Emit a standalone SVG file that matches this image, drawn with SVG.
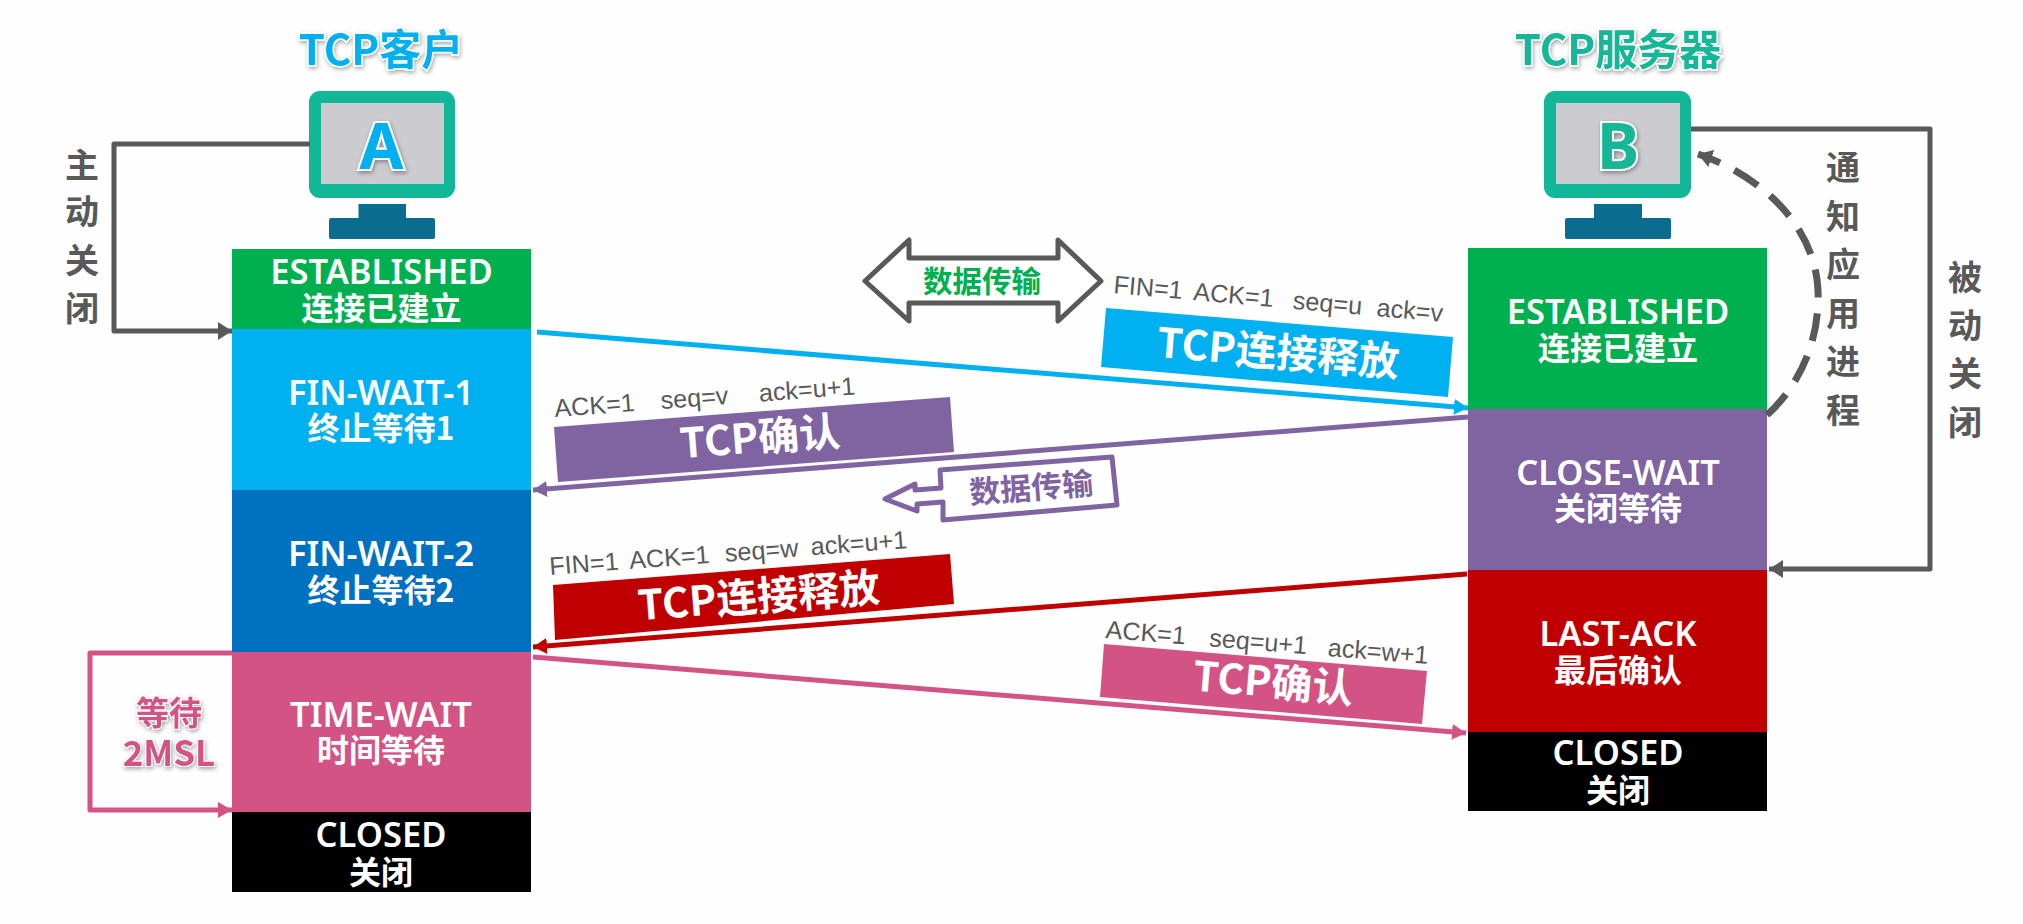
<svg xmlns="http://www.w3.org/2000/svg" width="2023" height="924" viewBox="0 0 2023 924">
<style>
text{font-family:"Noto Sans","Noto Sans CJK SC",sans-serif}
.n{fill:#fff;font-size:34.500px;font-weight:600;text-anchor:middle}
.z{font-family:"Noto Sans CJK SC",sans-serif;fill:#fff;font-size:32px;font-weight:700;text-anchor:middle}
.v{font-family:"Noto Sans CJK SC",sans-serif;fill:#595959;font-size:34px;font-weight:700;text-anchor:middle}
.f{font-family:"Liberation Sans",Arial,sans-serif;fill:#595959;font-size:25.200px}
.b{font-family:"Noto Sans CJK SC",sans-serif;fill:#fff;font-size:41px;font-weight:700;text-anchor:middle}
.c{fill:none;stroke-width:5}
</style>
<defs>
<filter id="s" x="-20%" y="-20%" width="140%" height="140%"><feDropShadow dx="1" dy="2" stdDeviation="2" flood-color="#000" flood-opacity=".35"/></filter>
<marker id="ag" markerUnits="userSpaceOnUse" markerWidth="14" markerHeight="18" refX="14" refY="9" orient="auto"><path d="M0 0L14 9L0 18z" fill="#595959"/></marker>
<marker id="ab" markerUnits="userSpaceOnUse" markerWidth="14" markerHeight="16" refX="14" refY="8" orient="auto"><path d="M0 0L14 8L0 16z" fill="#00B0F0"/></marker>
<marker id="ap" markerUnits="userSpaceOnUse" markerWidth="14" markerHeight="16" refX="14" refY="8" orient="auto"><path d="M0 0L14 8L0 16z" fill="#8064A2"/></marker>
<marker id="ar" markerUnits="userSpaceOnUse" markerWidth="14" markerHeight="16" refX="14" refY="8" orient="auto"><path d="M0 0L14 8L0 16z" fill="#C00000"/></marker>
<marker id="ak" markerUnits="userSpaceOnUse" markerWidth="14" markerHeight="16" refX="14" refY="8" orient="auto"><path d="M0 0L14 8L0 16z" fill="#D35384"/></marker>
</defs>
<rect width="2023" height="924" fill="#fefefe"/>

<g id="client-title"><text x="381" y="65" text-anchor="middle" font-size="42" font-weight="700" fill="#00B0F0" stroke="#fff" stroke-width="3" paint-order="stroke" filter="url(#s)" style="font-family:'Noto Sans CJK SC',sans-serif">TCP客户</text></g>
<g id="server-title"><text x="1618" y="65" text-anchor="middle" font-size="42" font-weight="700" fill="#12B797" stroke="#fff" stroke-width="3" paint-order="stroke" filter="url(#s)" style="font-family:'Noto Sans CJK SC',sans-serif">TCP服务器</text></g>

<g id="host-a">
<rect x="309" y="91" width="146" height="107" rx="11" fill="#12B797"/>
<rect x="321" y="103" width="123" height="81" fill="#CBCBD0"/>
<path d="M358.500 204H406V218H433a2 2 0 0 1 2 2V237a2 2 0 0 1-2 2H331a2 2 0 0 1-2-2V220a2 2 0 0 1 2-2H358.500z" fill="#0A6C8F"/>
<text x="381.500" y="169" text-anchor="middle" font-size="64" font-weight="700" fill="#00B0F0" stroke="#fff" stroke-width="4" paint-order="stroke" filter="url(#s)">A</text>
</g>
<g id="host-b">
<rect x="1544" y="91" width="147" height="107" rx="11" fill="#12B797"/>
<rect x="1556" y="103" width="124" height="81" fill="#CBCBD0"/>
<path d="M1594 204H1642V218H1669a2 2 0 0 1 2 2V237a2 2 0 0 1-2 2H1567a2 2 0 0 1-2-2V220a2 2 0 0 1 2-2H1594z" fill="#0A6C8F"/>
<text x="1618" y="169" text-anchor="middle" font-size="64" font-weight="700" fill="#12B797" stroke="#fff" stroke-width="4" paint-order="stroke" filter="url(#s)">B</text>
</g>

<g id="a-established"><rect x="232" y="249" width="299" height="80" fill="#00B050"/><text class="n" x="381.500" y="284">ESTABLISHED</text><text class="z" x="381.500" y="320">连接已建立</text></g>
<g id="a-fin-wait-1"><rect x="232" y="329" width="299" height="161" fill="#00B0F0"/><text class="n" x="381" y="405">FIN-WAIT-1</text><text class="z" x="381" y="440">终止等待1</text></g>
<g id="a-fin-wait-2"><rect x="232" y="490" width="299" height="162" fill="#0070C0"/><text class="n" x="381" y="566">FIN-WAIT-2</text><text class="z" x="381" y="602">终止等待2</text></g>
<g id="a-time-wait"><rect x="232" y="652" width="299" height="160" fill="#D35384"/><text class="n" x="381" y="727">TIME-WAIT</text><text class="z" x="381" y="762">时间等待</text></g>
<g id="a-closed"><rect x="232" y="812" width="299" height="80" fill="#000"/><text class="n" x="381" y="847">CLOSED</text><text class="z" x="381" y="884">关闭</text></g>

<g id="b-established"><rect x="1468" y="248" width="299" height="161" fill="#00B050"/><text class="n" x="1618" y="324">ESTABLISHED</text><text class="z" x="1618" y="360">连接已建立</text></g>
<g id="b-close-wait"><rect x="1468" y="409" width="299" height="161" fill="#8064A2"/><text class="n" x="1618" y="485">CLOSE-WAIT</text><text class="z" x="1618" y="520">关闭等待</text></g>
<g id="b-last-ack"><rect x="1468" y="570" width="299" height="162" fill="#C00000"/><text class="n" x="1618" y="646">LAST-ACK</text><text class="z" x="1618" y="682">最后确认</text></g>
<g id="b-closed"><rect x="1468" y="732" width="299" height="79" fill="#000"/><text class="n" x="1618" y="765">CLOSED</text><text class="z" x="1618" y="802">关闭</text></g>

<g id="connectors">
<path class="c" d="M310 144H114V331H232" stroke="#595959" stroke-linejoin="round" marker-end="url(#ag)"/>
<path class="c" d="M1691 129H1930V569H1769" stroke="#595959" stroke-linejoin="round" marker-end="url(#ag)"/>
<path d="M1767 415C1800 385 1820 340 1818 290C1815 225 1760 175 1698 154" fill="none" stroke="#595959" stroke-width="7" stroke-dasharray="28 16" marker-end="url(#ag)"/>
<path class="c" d="M232 653H90V810H232" stroke="#D35384" stroke-linejoin="round" marker-end="url(#ak)"/>
<line class="c" x1="537" y1="332" x2="1468" y2="408" stroke="#00B0F0" marker-end="url(#ab)"/>
<line class="c" x1="1468" y1="417" x2="533" y2="490" stroke="#8064A2" marker-end="url(#ap)"/>
<line class="c" x1="1467" y1="574" x2="533" y2="647" stroke="#C00000" marker-end="url(#ar)"/>
<line class="c" x1="533" y1="657" x2="1466" y2="733" stroke="#D35384" marker-end="url(#ak)"/>
</g>

<g id="data-both">
<path d="M865 281L909 240V258H1058V240L1101 281L1058 321V303H909V321z" fill="#fff" stroke="#595959" stroke-width="5" stroke-linejoin="round"/>
<text x="982" y="292" text-anchor="middle" font-size="29.500" font-weight="700" fill="#00B050" style="font-family:'Noto Sans CJK SC',sans-serif">数据传输</text>
</g>
<g id="data-back">
<path d="M885 499L915 484V490L941 488L940 470L1112 457L1117 505L943 520L943 502L917 504V511z" fill="#fff" stroke="#8064A2" stroke-width="5" stroke-linejoin="round"/>
<text transform="translate(1032 499) rotate(-4.500)" text-anchor="middle" font-size="31" font-weight="700" fill="#8064A2" style="font-family:'Noto Sans CJK SC',sans-serif">数据传输</text>
</g>

<g id="seg-fin-u">
<polygon points="1106,308 1453,337 1448,397 1101,367" fill="#00B0F0"/>
<text class="b" transform="translate(1277 367) rotate(4.700)">TCP连接释放</text>
<text class="f" transform="translate(1113 293) rotate(5)">FIN=1<tspan x="80">ACK=1</tspan><tspan x="180">seq=u</tspan><tspan x="264">ack=v</tspan></text>
</g>
<g id="seg-ack-v">
<polygon points="554,427 950,397 954,452 558,482" fill="#8064A2"/>
<text class="b" transform="translate(761 452) rotate(-4.400)">TCP确认</text>
<text class="f" transform="translate(555 417) rotate(-4.300)">ACK=1<tspan x="106.500">seq=v</tspan><tspan x="205">ack=u+1</tspan></text>
</g>
<g id="seg-fin-w">
<polygon points="553,585 950,554 954,604 555,640" fill="#C00000"/>
<text class="b" transform="translate(760 611) rotate(-4.400)">TCP连接释放</text>
<text class="f" transform="translate(550 575) rotate(-4.300)">FIN=1<tspan x="80">ACK=1</tspan><tspan x="176">seq=w</tspan><tspan x="262">ack=u+1</tspan></text>
</g>
<g id="seg-ack-w">
<polygon points="1104,644 1427,671 1422,724 1100,697" fill="#D35384"/>
<text class="b" transform="translate(1272 697) rotate(4.700)">TCP确认</text>
<text class="f" transform="translate(1105 638) rotate(4.600)">ACK=1<tspan x="104">seq=u+1</tspan><tspan x="223">ack=w+1</tspan></text>
</g>

<g id="labels">
<text class="v" x="82" y="178">主</text><text class="v" x="82" y="224">动</text><text class="v" x="82" y="273">关</text><text class="v" x="82" y="321">闭</text>
<text class="v" x="1843" y="180">通</text><text class="v" x="1843" y="229">知</text><text class="v" x="1843" y="277">应</text><text class="v" x="1843" y="326">用</text><text class="v" x="1843" y="374">进</text><text class="v" x="1843" y="423">程</text>
<text class="v" x="1965" y="290">被</text><text class="v" x="1965" y="338">动</text><text class="v" x="1965" y="386">关</text><text class="v" x="1965" y="435">闭</text>
<g fill="#D35384" stroke="#fff" stroke-width="2" paint-order="stroke" filter="url(#s)" font-weight="700" text-anchor="middle">
<text x="169" y="725" font-size="33" style="font-family:'Noto Sans CJK SC',sans-serif">等待</text>
<text x="169" y="766" font-size="35" style="font-family:'Noto Sans CJK SC',sans-serif">2MSL</text>
</g>
</g>
</svg>
